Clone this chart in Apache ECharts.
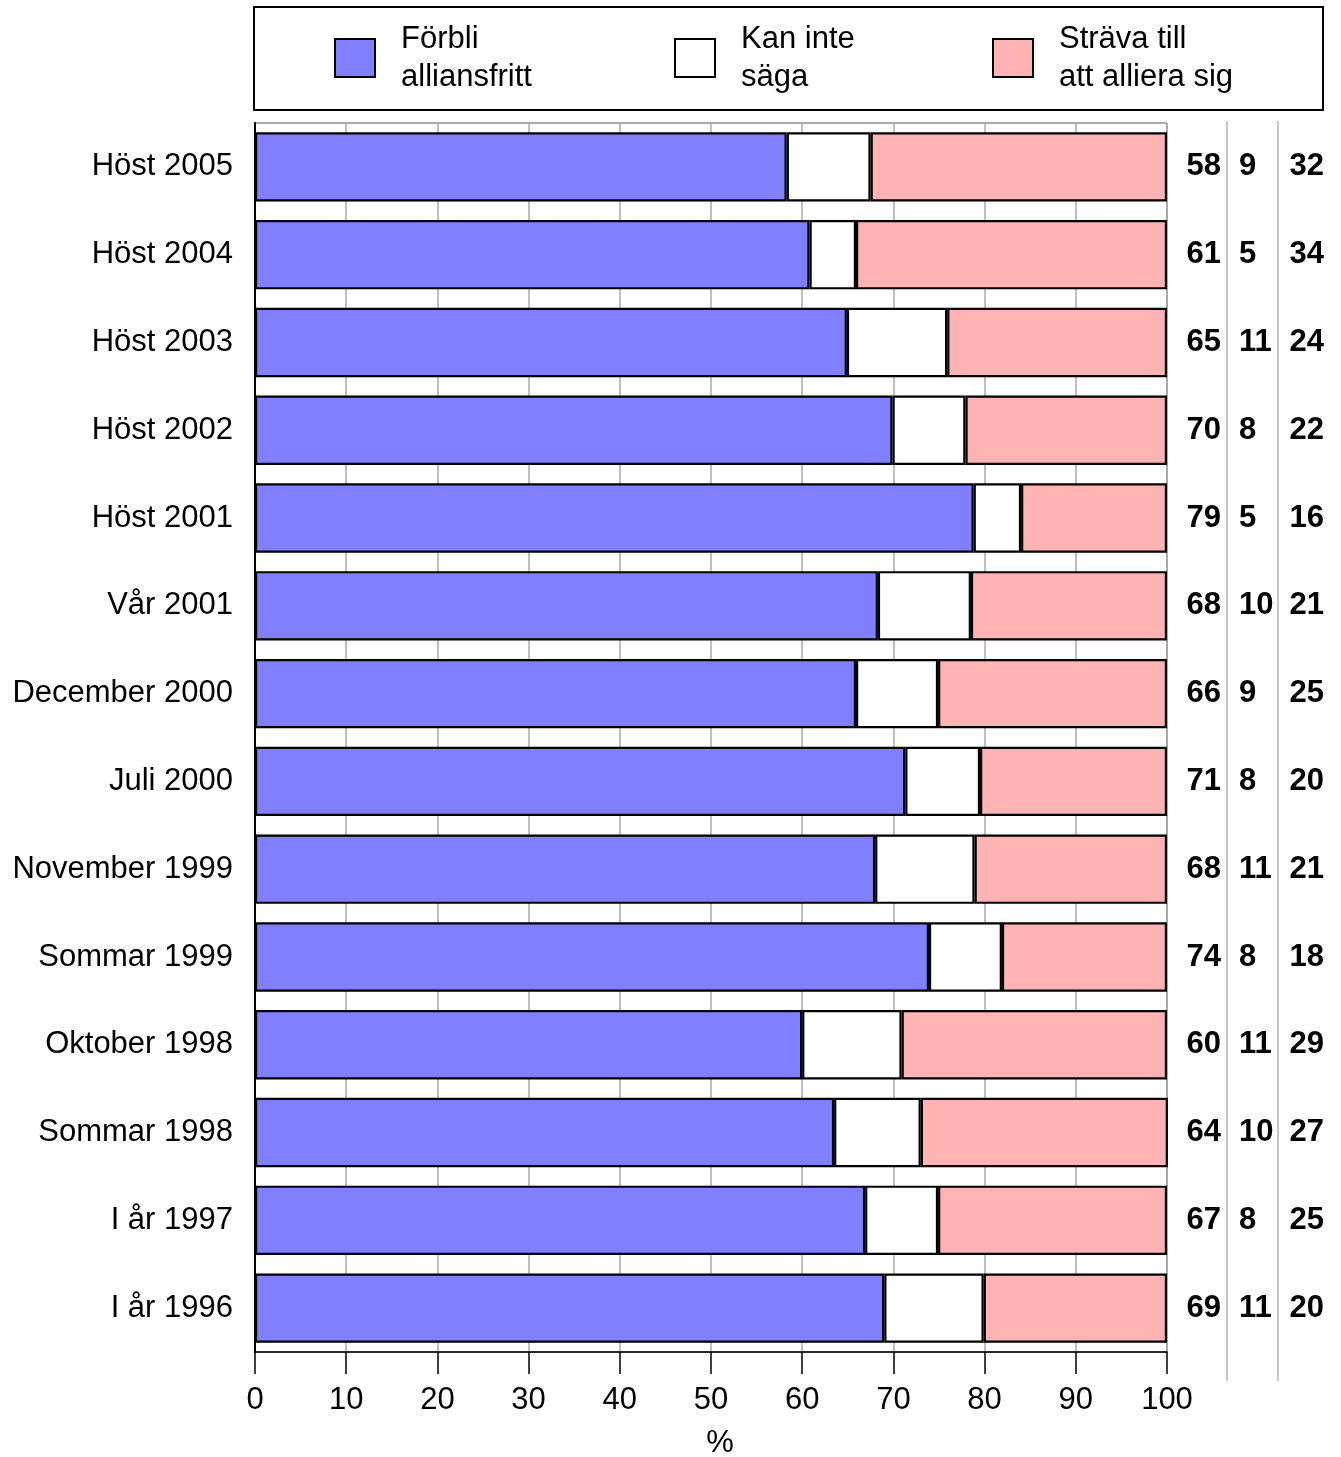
<!DOCTYPE html>
<html>
<head>
<meta charset="utf-8">
<script src="https://cdn.jsdelivr.net/npm/echarts@6/dist/echarts.min.js"></script>
<style>html,body{margin:0;padding:0;background:#fff}#c{width:1341px;height:1457px}</style>
</head>
<body>
<div id="c"></div>
<script>
// Categories, top to bottom
var categories = ['Höst 2005','Höst 2004','Höst 2003','Höst 2002','Höst 2001','Vår 2001','December 2000','Juli 2000','November 1999','Sommar 1999','Oktober 1998','Sommar 1998','I år 1997','I år 1996'];
// Bar segment values
var forbli   = [58.3, 60.8, 64.9, 69.9, 78.8, 68.3, 65.9, 71.3, 68.0, 73.9, 60.0, 63.5, 66.9, 69.0];
var kanInte  = [9.2, 5.1, 11.0, 8.0, 5.2, 10.2, 9.0, 8.2, 10.9, 8.0, 10.9, 9.5, 8.0, 10.9];
var strava   = [32.5, 34.1, 24.1, 22.1, 16.0, 21.5, 25.1, 20.5, 21.1, 18.1, 29.1, 27.1, 25.1, 20.1];
// Printed numbers on the right
var lblForbli  = ['58','61','65','70','79','68','66','71','68','74','60','64','67','69'];
var lblKanInte = ['9','5','11','8','5','10','9','8','11','8','11','10','8','11'];
var lblStrava  = ['32','34','24','22','16','21','25','20','21','18','29','27','25','20'];
var xTicks = [0,10,20,30,40,50,60,70,80,90,100];
var seriesNames = ['Förbli alliansfritt','Kan inte säga','Sträva till att alliera sig'];
var legendText = {'Förbli alliansfritt':'Förbli\nalliansfritt','Kan inte säga':'Kan inte\nsäga','Sträva till att alliera sig':'Sträva till\natt alliera sig'};

var FONT = "'Liberation Sans', Arial, sans-serif";
var FS = 31;
var chart = echarts.init(document.getElementById('c'), null, {renderer:'canvas'});

function mkLegend(name, left) {
  return {
    data: [name], left: left, top: 20, orient: 'horizontal', padding: 0,
    itemWidth: 40, itemHeight: 38, itemGap: 0,
    icon: 'rect',
    itemStyle: {borderColor: '#000', borderWidth: 2},
    formatter: function(n){ return legendText[n]; },
    textStyle: {fontFamily: FONT, fontSize: FS, color: '#000', lineHeight: 38, padding: [0,0,0,21]},
    selectedMode: false
  };
}

function rightAxis(labels, margin, align) {
  return {
    type: 'category', data: labels, inverse: true, position: 'right',
    axisLine: {show: false}, axisTick: {show: false}, splitLine: {show: false},
    axisLabel: {margin: margin, align: align, fontFamily: FONT, fontSize: FS, fontWeight: 'bold', color: '#000'}
  };
}

var segStyle = function(color){ return {color: color, borderColor: '#000', borderWidth: 2.2}; };

chart.setOption({
  animation: false,
  backgroundColor: '#fff',
  legend: [mkLegend(seriesNames[0], 334), mkLegend(seriesNames[1], 674), mkLegend(seriesNames[2], 992)],
  grid: {left: 255, right: 174, top: 123, bottom: 105, show: true, borderColor: '#555', borderWidth: 1, containLabel: false, outerBoundsMode: 'none'},
  xAxis: {
    type: 'value', min: 0, max: 100, interval: 10,
    name: '%', nameLocation: 'middle', nameGap: 76,
    nameTextStyle: {fontFamily: FONT, fontSize: FS, color: '#000', padding: [0, 0, 0, 18]},
    axisLine: {show: true, lineStyle: {color: '#000', width: 1.5}},
    axisTick: {show: true, inside: false, length: 22, lineStyle: {color: '#000', width: 1.5}},
    axisLabel: {margin: 33, fontFamily: FONT, fontSize: FS, color: '#000',
      formatter: function(v){ return xTicks.indexOf(v) >= 0 ? String(v) : ''; }},
    splitLine: {show: true, lineStyle: {color: '#aaa', width: 1.5}}
  },
  yAxis: [
    {
      type: 'category', data: categories, inverse: true,
      axisLine: {show: true, lineStyle: {color: '#000', width: 2}},
      axisTick: {show: false},
      axisLabel: {margin: 22, fontFamily: FONT, fontSize: FS, color: '#000'},
      splitLine: {show: false}
    },
    rightAxis(lblForbli, 54, 'right'),
    rightAxis(lblKanInte, 72, 'left'),
    rightAxis(lblStrava, 157, 'right')
  ],
  series: [
    {name: seriesNames[0], type: 'bar', stack: 't', data: forbli, barCategoryGap: '21%', itemStyle: segStyle('#8080ff')},
    {name: seriesNames[1], type: 'bar', stack: 't', data: kanInte, barCategoryGap: '21%', itemStyle: segStyle('#ffffff')},
    {name: seriesNames[2], type: 'bar', stack: 't', data: strava, barCategoryGap: '21%', itemStyle: segStyle('#ffb3b3')}
  ],
  graphic: [
    {type: 'rect', shape: {x: 254, y: 7, width: 1069, height: 103}, style: {fill: 'none', stroke: '#000', lineWidth: 2}, z: 0},
    {type: 'line', shape: {x1: 1227, y1: 121, x2: 1227, y2: 1381}, style: {stroke: '#c8c8c8', lineWidth: 2}},
    {type: 'line', shape: {x1: 1278, y1: 121, x2: 1278, y2: 1381}, style: {stroke: '#c8c8c8', lineWidth: 2}}
  ]
});
</script>
</body>
</html>
